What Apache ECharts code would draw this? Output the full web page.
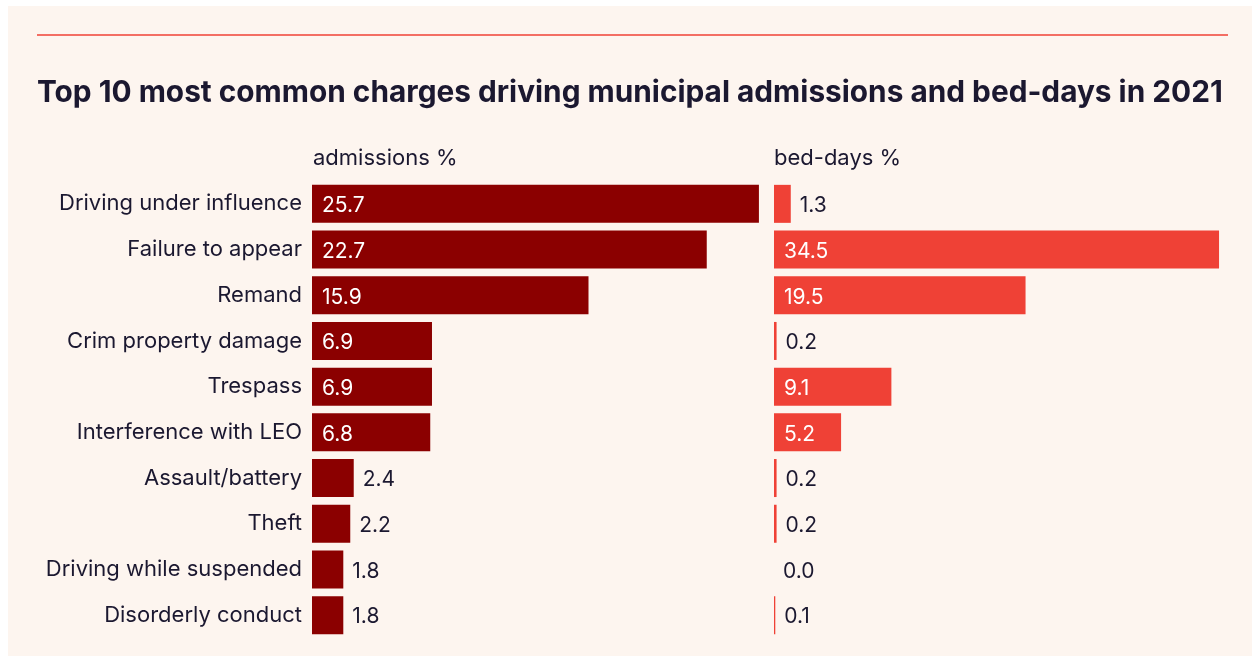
<!DOCTYPE html>
<html><head><meta charset="utf-8">
<script src="https://cdn.jsdelivr.net/npm/echarts@6/dist/echarts.min.js"></script>
<style>
html,body{margin:0;padding:0;background:#ffffff;}
#wrap{position:absolute;left:8px;top:6px;width:1244px;height:650px;background:#fdf5ef;}
#chart{width:1244px;height:650px;}
</style></head>
<body><div id="wrap"><div id="chart"></div></div>
<script>
var titleText = 'Top 10 most common charges driving municipal admissions and bed-days in 2021';
var categories = ['Driving under influence','Failure to appear','Remand','Crim property damage','Trespass','Interference with LEO','Assault/battery','Theft','Driving while suspended','Disorderly conduct'];
var admissions = [25.7,22.7,15.9,6.9,6.9,6.8,2.4,2.2,1.8,1.8];
var bedDays = [1.3,34.5,19.5,0.2,9.1,5.2,0.2,0.2,0.0,0.1];
var panelHeaders = ['admissions %','bed-days %'];

var FONT = 'Inter';
var TXT = '#1b1830';
var OX = 8, OY = 6; // container offset
var L1 = 312 - OX, MAX1 = 30, W1 = 30 * 17.39;
var L2 = 774 - OX, MAX2 = 36, W2 = 36 * 12.9;
var TOP = 181 - OY, H = 457;

function fmt(p){ return Number(p.value).toFixed(1); }
function labelFor(scale){
  return function(v){
    return v * scale > 55 ?
      {show:true, position:'insideLeft', distance:10, offset:[0,2], color:'#ffffff', fontFamily:FONT, fontSize:21, formatter:fmt} :
      {show:true, position:'right', distance:9, offset:[0,2], color:TXT, fontFamily:FONT, fontSize:21, formatter:fmt};
  };
}
function mkData(arr, scale){
  var f = labelFor(scale);
  return arr.map(function(v){ return {value:v, label:f(v)}; });
}

var chart = echarts.init(document.getElementById('chart'), null, {renderer:'canvas'});
chart.setOption({
  animation:false,
  backgroundColor:'transparent',
  title:{text:titleText, left:37-OX, top:78-OY, padding:0, textStyle:{fontFamily:FONT, fontWeight:700, fontSize:29.8, color:TXT}},
  graphic:[
    {type:'line', shape:{x1:37-OX, y1:35-OY, x2:1228-OX, y2:35-OY}, style:{stroke:'#ef4136', lineWidth:1.5}},
    {type:'text', left:313-OX, top:147-OY, style:{text:panelHeaders[0], font:'22px '+FONT, fill:TXT}},
    {type:'text', left:774-OX, top:147-OY, style:{text:panelHeaders[1], font:'22px '+FONT, fill:TXT}}
  ],
  grid:[
    {left:L1, top:TOP, width:W1, height:H},
    {left:L2, top:TOP, width:W2, height:H}
  ],
  xAxis:[
    {gridIndex:0, type:'value', min:0, max:MAX1, show:false},
    {gridIndex:1, type:'value', min:0, max:MAX2, show:false}
  ],
  yAxis:[
    {gridIndex:0, type:'category', data:categories, inverse:true,
     axisLine:{show:false}, axisTick:{show:false}, splitLine:{show:false},
     axisLabel:{margin:10, color:TXT, fontFamily:FONT, fontSize:22, padding:[4,0,0,0]}},
    {gridIndex:1, type:'category', data:categories, inverse:true, show:false}
  ],
  series:[
    {type:'bar', xAxisIndex:0, yAxisIndex:0, barWidth:38, data:mkData(admissions,17.39),
     itemStyle:{color:'#8b0000'}},
    {type:'bar', xAxisIndex:1, yAxisIndex:1, barWidth:38, data:mkData(bedDays,12.9),
     itemStyle:{color:'#ef4136'}}
  ]
});
</script></body></html>
